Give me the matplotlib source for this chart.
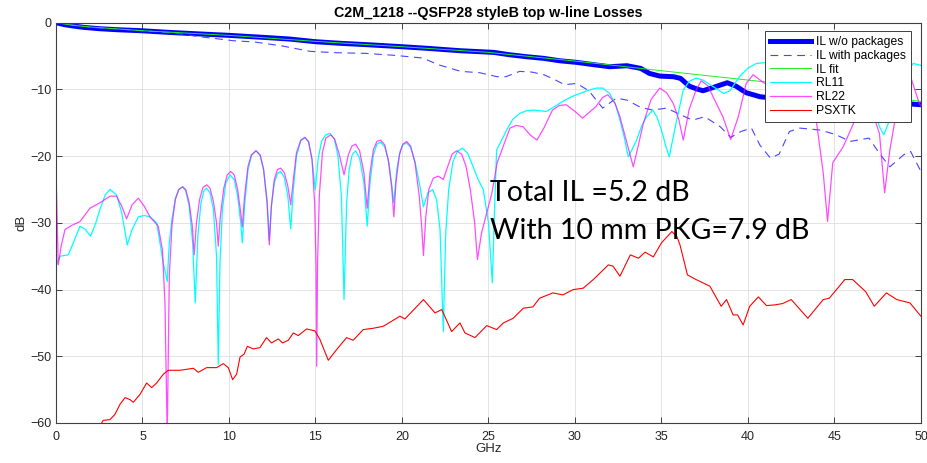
import matplotlib

matplotlib.use("Agg")
import matplotlib.pyplot as plt
import numpy as np

plt.rcParams["font.family"] = ["Liberation Sans", "DejaVu Sans"]

title = "C2M_1218 --QSFP28 styleB top w-line Losses"
note_lines = ["Total IL =5.2 dB", "With 10 mm PKG=7.9 dB"]
x_ticks = [0, 5, 10, 15, 20, 25, 30, 35, 40, 45, 50]
y_ticks = [-60, -50, -40, -30, -20, -10, 0]
labels = ["IL w/o packages", "IL with packages", "IL fit", "RL11", "RL22", "PSXTK"]

# (GHz, dB) pairs read per curve
il_nopkg = np.array([
    (0, 0), (0.5, -0.3), (1.0, -0.5), (1.6, -0.7), (2.5, -0.9), (3.5, -1.05), (4.9, -1.2),
    (6.5, -1.45), (8.0, -1.65), (10.0, -1.9), (12.0, -2.2), (13.5, -2.45), (15.0, -2.85),
    (16.5, -3.1), (18.0, -3.3), (20.0, -3.6), (21.5, -3.85), (23.35, -4.2), (25.3, -4.45),
    (26.2, -4.8), (27.2, -5.1), (28.2, -5.35), (29.1, -5.7), (30.1, -5.95), (31.1, -6.3),
    (32.0, -6.6), (33.0, -6.45), (33.8, -6.85), (34.3, -7.6), (34.9, -8.0), (35.7, -8.1),
    (36.1, -8.35), (36.6, -9.5), (37.0, -9.9), (37.4, -10.2), (38.0, -9.7), (38.8, -9.0),
    (39.3, -9.5), (39.9, -10.5), (40.7, -11.1), (41.5, -11.3), (43.0, -11.5), (45.0, -11.7),
    (47.0, -11.9), (48.5, -12.0), (49.5, -12.2), (50.0, -12.3),
])

il_pkg = np.array([
    (0, 0), (2, -0.7), (5, -1.2), (7, -1.6), (8.3, -2.1), (10.25, -2.7), (11.5, -2.9),
    (13.1, -3.5), (14.7, -4.3), (16.2, -4.5), (17.9, -4.6), (19.6, -4.9), (21.2, -5.3),
    (22.1, -6.3), (23.4, -7.3), (24.5, -7.5), (25.5, -8.1), (26.0, -8.1), (26.8, -7.3),
    (27.5, -7.4), (28.2, -7.8), (28.8, -8.5), (29.4, -9.3), (30.1, -9.1), (30.8, -10.2),
    (31.6, -12.8), (32.4, -11.3), (33.0, -11.6), (33.8, -12.7), (34.5, -13.1), (35.3, -12.8),
    (36.1, -13.8), (36.8, -14.6), (37.5, -14.1), (38.4, -15.6), (39.0, -17.2), (39.6, -16.3),
    (40.2, -15.8), (40.7, -18.4), (41.3, -20.3), (41.8, -19.7), (42.4, -16.3), (43.0, -15.8),
    (44.2, -16.1), (45.1, -16.8), (45.9, -17.8), (47.0, -17.3), (47.6, -19.6), (48.2, -21.6),
    (49.0, -19.8), (49.4, -19.3), (50.0, -22.3),
])

il_fit = np.array([
    (0, 0), (1, -0.4), (2, -0.65), (5, -1.2), (10, -1.9), (15, -2.8), (20, -3.6),
    (25, -4.45), (30, -5.75), (35, -7.2), (40, -8.6), (45, -10.0), (50, -11.8),
])

rl11 = np.array([
    (0.0, -36.5), (0.23, -35.0), (0.71, -34.8), (1.0, -33.0), (1.39, -30.5), (1.7, -31.0),
    (2.0, -32.0), (2.3, -30.0), (2.54, -28.0), (2.85, -25.8), (3.12, -25.0), (3.5, -25.8),
    (3.8, -28.5), (4.12, -33.3), (4.4, -31.0), (4.76, -29.1), (5.1, -28.9), (5.43, -29.1),
    (5.82, -30.0), (6.2, -36.0), (6.43, -38.8), (6.55, -33.0), (6.7, -29.5), (6.9, -26.3),
    (7.1, -25.0), (7.32, -24.6), (7.5, -25.2), (7.7, -27.5), (7.9, -33.0), (8.05, -42.0),
    (8.2, -32.0), (8.38, -27.0), (8.55, -25.2), (8.71, -24.8), (8.9, -25.5), (9.1, -28.0),
    (9.28, -35.0), (9.38, -51.2), (9.48, -36.0), (9.62, -28.0), (9.82, -24.0), (10.06, -22.8),
    (10.3, -23.5), (10.5, -26.0), (10.68, -30.0), (10.77, -33.0), (10.9, -27.5), (11.1, -22.0),
    (11.3, -19.9), (11.56, -19.2), (11.8, -19.9), (12.0, -22.0), (12.2, -26.5), (12.33, -32.6),
    (12.45, -27.5), (12.62, -24.0), (12.8, -22.6), (12.99, -22.3), (13.2, -23.2), (13.4, -26.0),
    (13.57, -30.9), (13.72, -25.0), (13.9, -20.0), (14.15, -17.7), (14.39, -17.2),
    (14.6, -17.9), (14.8, -20.5), (14.99, -25.0), (15.15, -20.5), (15.35, -17.8),
    (15.6, -16.8), (15.84, -16.6), (16.1, -17.5), (16.3, -20.0), (16.5, -26.0), (16.65, -41.5),
    (16.8, -27.0), (16.95, -22.0), (17.12, -19.8), (17.32, -19.2), (17.55, -20.3),
    (17.8, -24.0), (17.99, -30.5), (18.15, -24.0), (18.35, -19.8), (18.55, -18.2),
    (18.76, -17.9), (19.0, -18.6), (19.25, -21.0), (19.53, -27.0), (19.7, -22.0),
    (19.9, -19.2), (20.05, -18.3), (20.27, -18.0), (20.5, -18.7), (20.75, -20.8),
    (21.0, -24.0), (21.24, -27.6), (21.5, -25.5), (21.77, -25.0), (22.0, -26.5),
    (22.2, -31.0), (22.39, -46.3), (22.52, -32.0), (22.7, -25.0), (22.95, -20.8),
    (23.2, -19.3), (23.5, -18.8), (23.8, -19.6), (24.1, -21.5), (24.4, -23.5), (24.7, -25.0),
    (25.0, -30.0), (25.22, -39.0), (25.35, -28.0), (25.47, -19.1), (26.05, -16.1),
    (26.4, -14.5), (26.8, -13.6), (27.2, -13.2), (27.57, -13.1), (28.0, -13.2),
    (28.35, -13.3), (28.8, -12.6), (29.3, -11.8), (29.8, -11.1), (30.29, -10.6),
    (30.8, -10.1), (31.25, -9.8), (31.6, -9.8), (32.0, -10.6), (32.35, -12.3), (32.6, -14.6),
    (32.85, -17.2), (33.08, -20.1), (33.3, -19.0), (33.56, -17.6), (33.85, -15.5),
    (34.14, -14.1), (34.5, -13.1), (34.75, -14.2), (35.0, -16.1), (35.25, -18.5),
    (35.45, -20.1), (35.65, -17.5), (35.88, -14.6), (36.26, -10.1), (36.6, -8.8),
    (37.0, -8.3), (37.4, -8.6), (38.0, -9.6), (38.6, -10.6), (38.96, -10.2), (39.5, -8.1),
    (40.0, -6.8), (40.5, -6.1), (41.0, -6.0), (41.5, -6.5), (42.5, -8.5), (43.5, -11.0),
    (44.3, -13.0), (45.0, -11.0), (46.0, -9.0), (46.8, -10.0), (47.3, -13.0), (47.6, -15.6),
    (47.85, -16.8), (48.2, -14.5), (48.5, -10.5), (49.0, -8.1), (49.55, -6.1), (50.0, -6.4),
])

rl22 = np.array([
    (0.0, -22.1), (0.13, -36.3), (0.3, -33.5), (0.52, -31.0), (0.9, -30.4), (1.39, -29.8),
    (1.97, -27.8), (2.54, -27.0), (3.12, -26.0), (3.5, -26.0), (3.8, -27.5), (4.08, -29.4),
    (4.4, -27.3), (4.76, -26.3), (5.1, -27.5), (5.43, -29.1), (5.91, -30.5), (6.15, -34.0),
    (6.3, -42.0), (6.43, -62.0), (6.55, -38.0), (6.7, -30.5), (6.9, -26.5), (7.1, -25.0),
    (7.32, -24.6), (7.5, -25.0), (7.7, -27.0), (7.88, -30.5), (7.99, -34.8), (8.12, -30.0),
    (8.3, -26.5), (8.5, -24.7), (8.71, -24.3), (8.9, -24.8), (9.1, -26.8), (9.28, -30.0),
    (9.38, -33.5), (9.5, -29.0), (9.7, -24.8), (9.9, -22.8), (10.1, -22.3), (10.3, -22.8),
    (10.5, -25.0), (10.68, -28.5), (10.77, -30.6), (10.9, -26.0), (11.1, -21.5),
    (11.3, -19.8), (11.56, -19.2), (11.8, -19.8), (12.0, -22.0), (12.2, -27.0), (12.33, -33.3),
    (12.45, -27.5), (12.62, -23.5), (12.8, -22.0), (12.99, -21.8), (13.2, -22.5),
    (13.4, -24.5), (13.57, -27.3), (13.72, -23.5), (13.9, -19.5), (14.15, -17.6),
    (14.39, -17.2), (14.6, -17.8), (14.8, -20.5), (14.95, -27.0), (15.03, -36.0),
    (15.07, -51.5), (15.12, -36.0), (15.22, -26.0), (15.4, -19.5), (15.6, -17.3),
    (15.88, -16.8), (16.1, -17.4), (16.35, -19.5), (16.65, -22.8), (16.9, -19.8),
    (17.1, -18.5), (17.32, -18.2), (17.55, -19.2), (17.8, -22.5), (17.99, -27.8),
    (18.15, -22.5), (18.35, -19.0), (18.55, -17.8), (18.76, -17.6), (19.0, -18.3),
    (19.2, -20.5), (19.4, -24.5), (19.53, -29.1), (19.65, -24.0), (19.85, -19.8),
    (20.05, -18.2), (20.27, -17.8), (20.5, -18.5), (20.75, -21.0), (21.0, -26.0),
    (21.15, -31.0), (21.24, -34.9), (21.38, -29.0), (21.55, -25.0), (21.81, -23.3),
    (22.1, -23.0), (22.39, -23.5), (22.65, -21.5), (22.9, -19.7), (23.16, -19.2),
    (23.45, -19.7), (23.7, -21.5), (23.95, -25.0), (24.2, -30.0), (24.36, -35.5),
    (24.6, -31.5), (25.0, -27.5), (25.2, -25.5), (25.5, -21.0), (25.9, -18.2), (26.24, -15.8),
    (26.6, -15.4), (27.0, -15.6), (27.4, -16.8), (27.8, -17.6), (28.2, -15.8), (28.7, -13.1),
    (29.1, -12.4), (29.5, -12.3), (30.0, -13.3), (30.44, -14.3), (30.8, -13.5), (31.2, -12.6),
    (31.6, -11.2), (31.9, -10.8), (32.3, -12.0), (32.6, -14.1), (33.0, -18.0), (33.37, -21.6),
    (33.65, -18.5), (33.95, -15.1), (34.4, -11.5), (34.9, -9.8), (35.3, -10.5),
    (35.68, -12.1), (36.0, -14.5), (36.26, -17.6), (36.6, -13.0), (37.0, -10.1),
    (37.3, -8.7), (37.7, -9.5), (37.98, -11.1), (38.55, -14.1), (39.0, -17.5), (39.44, -14.1),
    (39.9, -9.1), (40.3, -7.8), (40.8, -8.8), (41.5, -10.0), (42.5, -11.5), (43.5, -13.0),
    (43.97, -15.1), (44.35, -22.5), (44.6, -29.8), (44.9, -21.0), (45.5, -18.6),
    (46.1, -15.1), (46.6, -12.5), (47.2, -13.5), (47.6, -16.6), (47.9, -25.5), (48.2, -19.1),
    (48.8, -10.1), (49.4, -8.1), (49.9, -12.1), (50.0, -12.5),
])

psxtk = np.array([
    (2.2, -62.0), (2.64, -60.0), (2.73, -59.6), (3.12, -59.5), (3.41, -58.7), (3.7, -57.2),
    (3.99, -56.2), (4.28, -56.5), (4.47, -56.9), (4.86, -55.7), (5.24, -54.0), (5.53, -54.7),
    (5.82, -54.0), (6.2, -52.7), (6.49, -52.1), (7.17, -52.1), (7.94, -51.8), (8.23, -52.4),
    (8.71, -51.7), (9.29, -51.7), (9.67, -51.1), (9.96, -51.7), (10.21, -53.5),
    (10.44, -52.7), (10.64, -50.1), (10.87, -49.7), (11.06, -48.5), (11.4, -48.9),
    (11.79, -48.7), (12.17, -47.2), (12.46, -48.0), (12.85, -47.4), (13.1, -48.0),
    (13.43, -47.6), (13.72, -46.5), (14.0, -46.9), (14.49, -45.9), (14.97, -46.2),
    (15.26, -47.5), (15.74, -50.6), (16.22, -49.0), (16.8, -47.2), (17.18, -47.6),
    (17.76, -46.0), (18.34, -45.8), (18.92, -45.5), (19.88, -44.0), (20.17, -44.4),
    (21.24, -41.5), (21.91, -43.5), (22.3, -43.0), (22.87, -46.3), (23.35, -45.0),
    (23.64, -46.5), (24.22, -47.2), (24.9, -45.4), (25.47, -46.0), (25.86, -45.0),
    (26.43, -44.3), (27.01, -42.8), (27.57, -42.6), (27.95, -41.3), (28.72, -40.5),
    (29.3, -40.8), (29.9, -40.0), (30.47, -39.8), (31.06, -38.5), (31.93, -36.3),
    (32.2, -36.5), (32.6, -38.0), (33.2, -34.8), (33.67, -35.3), (34.05, -34.4),
    (34.53, -35.1), (35.0, -33.0), (35.6, -31.3), (35.88, -32.0), (36.07, -33.3),
    (36.5, -37.8), (37.0, -38.5), (37.8, -39.5), (38.45, -42.5), (38.76, -41.5),
    (39.14, -43.8), (39.4, -43.8), (39.72, -45.3), (40.1, -42.5), (40.6, -41.1),
    (41.07, -42.4), (41.55, -42.3), (42.0, -42.1), (42.5, -41.5), (43.46, -44.3),
    (44.35, -41.5), (44.7, -41.3), (45.6, -38.5), (46.05, -38.5), (46.8, -40.3),
    (47.3, -42.5), (48.0, -40.5), (48.6, -41.5), (49.36, -42.0), (50.0, -44.0),
])

fig = plt.figure(figsize=(9.27, 4.63), dpi=100)
ax = fig.add_axes([0.0604, 0.0864, 0.9331, 0.8646])

ax.plot(il_nopkg[:, 0], il_nopkg[:, 1], color="#0000ff", lw=3.6, label=labels[0])
ax.plot(il_pkg[:, 0], il_pkg[:, 1], color="#4646ff", lw=0.8, dashes=(7, 5), label=labels[1])
ax.plot(il_fit[:, 0], il_fit[:, 1], color="#22ee22", lw=0.7, label=labels[2])
ax.plot(rl11[:, 0], rl11[:, 1], color="#00ffff", lw=0.9, label=labels[3])
ax.plot(rl22[:, 0], rl22[:, 1], color="#ff00ff", lw=0.9, alpha=0.7, label=labels[4])
ax.plot(psxtk[:, 0], psxtk[:, 1], color="#ff0000", lw=0.8, label=labels[5])

ax.set_xlim(0, 50)
ax.set_ylim(-60, 0)
ax.set_xticks(x_ticks)
ax.set_yticks(y_ticks)
ax.grid(True, color="#dedede", lw=0.6)
ax.set_axisbelow(True)
ax.tick_params(direction="in", top=True, right=True, length=4, width=0.6,
               color="#262626", labelcolor="#262626", labelsize=9)
ax.tick_params(axis="x", pad=6)
ax.tick_params(axis="y", pad=3)
for spine in ax.spines.values():
    spine.set_color("#404040")
    spine.set_linewidth(0.8)

ax.set_xlabel("GHz", fontsize=9.5, color="#262626", labelpad=0)
ax.set_ylabel("dB", fontsize=9.5, color="#262626", labelpad=2)
ax.set_title(title, fontsize=10.3, fontweight="bold", pad=4)

leg = ax.legend(loc="upper right", bbox_to_anchor=(0.9884, 0.979), borderaxespad=0,
                fontsize=8.7, fancybox=False, framealpha=1, edgecolor="#404040",
                handlelength=3.4, handletextpad=0.45, labelspacing=0.15, borderpad=0.4)
leg.get_frame().set_linewidth(0.7)

ax.text(0.502, 0.607, "\n".join(note_lines), transform=ax.transAxes, va="top", ha="left",
        fontsize=20.5, family=["Lato", "DejaVu Sans"], linespacing=1.55, color="black")

fig.savefig("out.png", dpi=100)
